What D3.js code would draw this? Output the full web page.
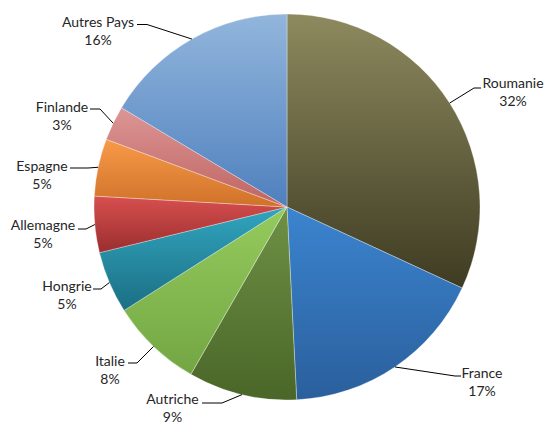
<!DOCTYPE html>
<html>
<head>
<meta charset="utf-8">
<script src="https://cdn.jsdelivr.net/npm/d3@7"></script>
<style>
  html, body { margin: 0; padding: 0; background: #fff; }
  svg { display: block; }
  text { font-family: Lato, "Liberation Sans", sans-serif; font-size: 14px; fill: #262626; }
</style>
</head>
<body>
<svg id="chart" width="545" height="426"></svg>
<script>
// ---- data ----
const countries = ["Roumanie", "France", "Autriche", "Italie", "Hongrie", "Allemagne", "Espagne", "Finlande", "Autres Pays"];
const shares = [31.9, 17.3, 9.1, 7.7, 5.2, 4.7, 4.8, 2.9, 16.4];

// ---- styles (gradient top / bottom per slice) ----
const colorTop = ["#8d8a5f", "#3b84cf", "#6e9145", "#95cb5d", "#31a5bf", "#d84f4f", "#f99a48", "#dc9695", "#92b6dc"];
const colorBottom = ["#3e3b22", "#2a5f9c", "#4a6628", "#73a643", "#1b6f83", "#9a2e2e", "#cf722a", "#bf6461", "#4f80be"];

// ---- label layout, relative to the pie centre: text centre, elbow, line end ----
const labelLayout = [
  { tx: 226, ty: -125, ex: 187, ey: -119, endX: 194 },
  { tx: 195, ty: 165, ex: 168, ey: 169, endX: 174 },
  { tx: -114.5, ty: 191, ex: -65, ey: 196, endX: -85 },
  { tx: -177, ty: 153, ex: -150, ey: 156, endX: -159 },
  { tx: -220, ty: 78, ex: -186, ey: 82, endX: -194 },
  { tx: -244, ty: 17, ex: -201, ey: 22, endX: -209 },
  { tx: -245, ty: -42, ex: -199, ey: -39, endX: -217 },
  { tx: -225, ty: -101, ex: -187, ey: -98, endX: -197 },
  { tx: -189, ty: -186, ex: -140, ey: -182.5, endX: -150 }
];

const cx = 287, cy = 207, radius = 193;
const svg = d3.select("#chart");
const defs = svg.append("defs");

countries.forEach((c, i) => {
  const g = defs.append("linearGradient")
    .attr("id", "grad" + i)
    .attr("x1", 0).attr("y1", 0).attr("x2", 0).attr("y2", 1);
  g.append("stop").attr("offset", "0%").attr("stop-color", colorTop[i]);
  g.append("stop").attr("offset", "100%").attr("stop-color", colorBottom[i]);
});

const data = countries.map((c, i) => ({ name: c, value: shares[i], i }));
const total = d3.sum(shares);

const pie = d3.pie().value(d => d.value).sort(null);
const arcs = pie(data);
const arc = d3.arc().innerRadius(0).outerRadius(radius);
const edgeArc = d3.arc().innerRadius(radius).outerRadius(radius);

const g = svg.append("g").attr("transform", `translate(${cx},${cy})`);

g.selectAll("path.slice")
  .data(arcs)
  .join("path")
  .attr("class", "slice")
  .attr("d", arc)
  .attr("fill", d => `url(#grad${d.data.i})`)
  .attr("stroke", "rgba(255,255,255,0.55)")
  .attr("stroke-width", 0.6);

// leader lines
g.selectAll("polyline.leader")
  .data(arcs)
  .join("polyline")
  .attr("class", "leader")
  .attr("fill", "none")
  .attr("stroke", "#000")
  .attr("stroke-width", 1)
  .attr("points", d => {
    const L = labelLayout[d.data.i];
    const p = edgeArc.centroid(d);
    return [p, [L.ex, L.ey], [L.endX, L.ey]].map(q => q.join(",")).join(" ");
  });

// labels
const fmt = v => Math.round(v / total * 100) + "%";
const lbl = g.selectAll("g.label")
  .data(arcs)
  .join("g")
  .attr("class", "label")
  .attr("transform", d => `translate(${labelLayout[d.data.i].tx},${labelLayout[d.data.i].ty})`);

lbl.append("text")
  .attr("text-anchor", "middle")
  .attr("dominant-baseline", "central")
  .text(d => d.data.name);

lbl.append("text")
  .attr("text-anchor", "middle")
  .attr("dominant-baseline", "central")
  .attr("y", 18.5)
  .text(d => fmt(d.data.value));
</script>
</body>
</html>
